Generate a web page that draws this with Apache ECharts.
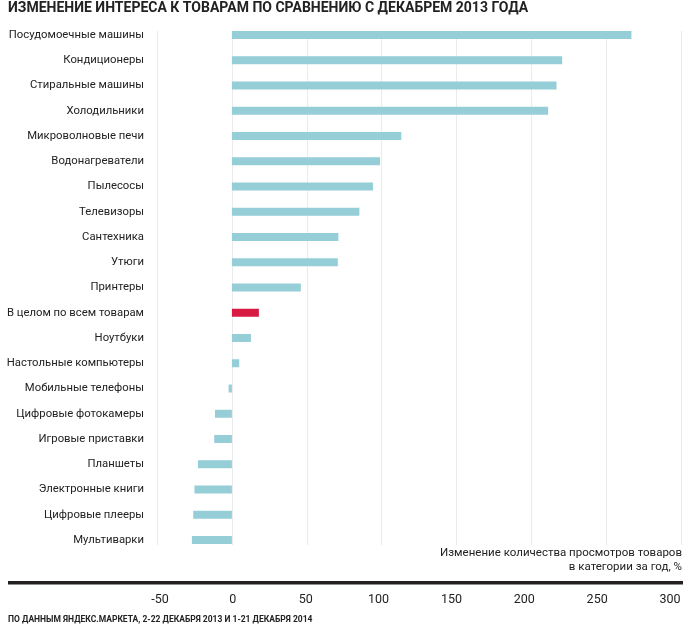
<!DOCTYPE html>
<html>
<head>
<meta charset="utf-8">
<script src="https://cdn.jsdelivr.net/npm/echarts@6/dist/echarts.min.js"></script>
<style>html,body{margin:0;padding:0;background:#fff}#c{width:694px;height:631px}</style>
</head>
<body>
<div id="c"></div>
<script>
var categories = ['Посудомоечные машины','Кондиционеры','Стиральные машины','Холодильники','Микроволновые печи','Водонагреватели','Пылесосы','Телевизоры','Сантехника','Утюги','Принтеры','В целом по всем товарам','Ноутбуки','Настольные компьютеры','Мобильные телефоны','Цифровые фотокамеры','Игровые приставки','Планшеты','Электронные книги','Цифровые плееры','Мультиварки'];
var values = [266.7, 220.5, 216.7, 211.1, 113.1, 98.9, 94.2, 85.1, 71.1, 70.7, 46, 18, 12.7, 4.9, -2.2, -11.3, -11.8, -22.7, -25, -25.8, -26.7];
var highlight = 'В целом по всем товарам';
var xMin = -50, xMax = 300, xStep = 50;
var titleText = 'ИЗМЕНЕНИЕ ИНТЕРЕСА К ТОВАРАМ ПО СРАВНЕНИЮ С ДЕКАБРЕМ 2013 ГОДА';
var axisNameText = 'Изменение количества просмотров товаров\nв категории за год, %';
var sourceText = 'ПО ДАННЫМ ЯНДЕКС.МАРКЕТА, 2-22 ДЕКАБРЯ 2013 И 1-21 ДЕКАБРЯ 2014';

var FONT = 'Roboto';
var chart = echarts.init(document.getElementById('c'));
chart.setOption({
  animation: false,
  backgroundColor: '#fff',
  grid: [
    {left: 157, right: 12.7, top: 31, bottom: 86, containLabel: false, outerBoundsMode: 'none'},
    {left: 157, right: 12.7, top: 35, bottom: 91, containLabel: false, outerBoundsMode: 'none'},
    {left: 160, right: 24, top: 580, bottom: 47, containLabel: false, outerBoundsMode: 'none'}
  ],
  xAxis: [
    {gridIndex: 0, type: 'value', min: xMin, max: xMax, interval: xStep,
     axisLine: {show: false}, axisTick: {show: false}, axisLabel: {show: false},
     splitLine: {show: true, lineStyle: {color: '#ebebeb', width: 1}}},
    {gridIndex: 1, type: 'value', min: xMin, max: xMax, interval: xStep,
     axisLine: {show: false}, axisTick: {show: false}, axisLabel: {show: false}, splitLine: {show: false}},
    {gridIndex: 2, type: 'value', min: xMin, max: xMax, interval: xStep, position: 'bottom',
     axisLine: {show: false}, axisTick: {show: false}, splitLine: {show: false},
     axisLabel: {show: true, margin: 9, fontFamily: FONT, fontSize: 12.5, color: '#222'}}
  ],
  yAxis: [
    {gridIndex: 0, type: 'value', show: false},
    {gridIndex: 1, type: 'category', data: categories, inverse: true, boundaryGap: false,
     axisLine: {show: false}, axisTick: {show: false}, splitLine: {show: false},
     axisLabel: {margin: 13, fontFamily: FONT, fontSize: 11.3, color: '#222'}},
    {gridIndex: 2, type: 'value', show: false}
  ],
  series: [{
    type: 'bar', xAxisIndex: 1, yAxisIndex: 1, clip: false, barWidth: 8,
    data: values.map(function (v, i) {
      return {value: v, itemStyle: {color: categories[i] === highlight ? '#d81a43' : '#96ced7'}};
    })
  }],
  graphic: [
    {type: 'text', left: 8, top: 1, style: {text: titleText, font: 'bold 14px ' + FONT, fill: '#222'}},
    {type: 'text', right: 12, top: 546, style: {text: axisNameText, font: '11.5px ' + FONT, fill: '#222', textAlign: 'right', lineHeight: 14}},
    {type: 'rect', shape: {x: 8, y: 581, width: 675, height: 3.5}, style: {fill: '#231f20'}},
    {type: 'text', left: 8, top: 615, style: {text: sourceText, font: 'bold 8.5px ' + FONT, fill: '#222'}}
  ]
});
</script>
</body>
</html>
